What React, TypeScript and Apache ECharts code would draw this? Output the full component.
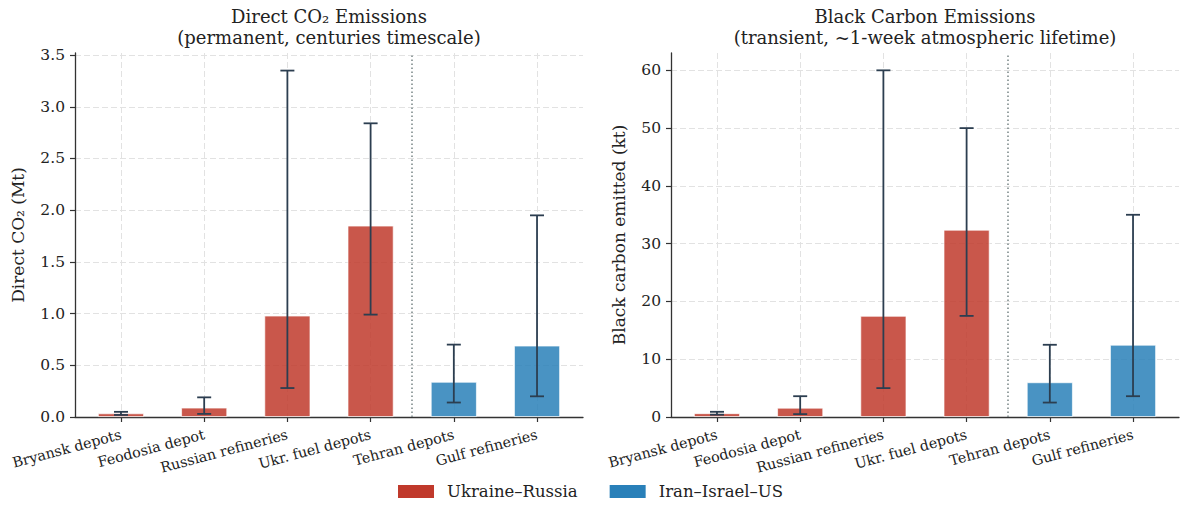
import React, { useEffect, useRef } from "react";
import * as echarts from "echarts";

const categories = [
  "Bryansk depots",
  "Feodosia depot",
  "Russian refineries",
  "Ukr. fuel depots",
  "Tehran depots",
  "Gulf refineries",
];
const conflictOf = [0, 0, 0, 0, 1, 1];
const conflicts = ["Ukraine–Russia", "Iran–Israel–US"];
const conflictColors = ["#c0392b", "#2980b9"];

const co2Values = [0.035, 0.09, 0.98, 1.85, 0.34, 0.69];
const co2Low = [0.02, 0.03, 0.28, 0.99, 0.14, 0.2];
const co2High = [0.05, 0.19, 3.35, 2.84, 0.7, 1.95];

const bcValues = [0.65, 1.6, 17.5, 32.4, 6.0, 12.5];
const bcLow = [0.4, 0.5, 5.0, 17.5, 2.5, 3.6];
const bcHigh = [0.9, 3.6, 60, 50, 12.5, 35];

const co2Ticks = [0, 0.5, 1.0, 1.5, 2.0, 2.5, 3.0, 3.5];
const bcTicks = [0, 10, 20, 30, 40, 50, 60];

const FONT = "DejaVu Serif";
const TEXT = "#222222";
const AXIS = "#333333";
const GRIDC = "#e2e2e2";
const ERR = "#2c3e50";

function makeAxes(gridIndex: number, yMax: number, yTicks: number[], yName: string, fmt: (v: number) => string, nameGap: number) {
  const catIdx = categories.map((_, i) => i);
  const xAxis = {
    type: "value",
    gridIndex,
    min: -0.5525,
    max: 5.5525,
    axisLine: { show: true, onZero: false, lineStyle: { color: AXIS, width: 1.3 } },
    axisTick: { show: true, customValues: catIdx, length: 5, lineStyle: { color: AXIS, width: 1.2 } },
    axisLabel: {
      show: true,
      customValues: catIdx,
      rotate: 15,
      margin: 17,
      fontFamily: FONT,
      fontSize: 14.3,
      color: TEXT,
      formatter: (v: number) => categories[Math.round(v)] ?? "",
    },
    splitLine: { show: true, lineStyle: { color: GRIDC, type: [6, 3], width: 1 } },
  };
  const yAxis = {
    type: "value",
    gridIndex,
    min: 0,
    max: yMax,
    name: yName,
    nameLocation: "middle",
    nameRotate: 90,
    nameGap,
    nameTextStyle: { fontFamily: FONT, fontSize: 17, color: TEXT },
    axisLine: { show: true, onZero: false, lineStyle: { color: AXIS, width: 1.3 } },
    axisTick: { show: true, customValues: yTicks, length: 5, lineStyle: { color: AXIS, width: 1.2 } },
    axisLabel: {
      show: true,
      customValues: yTicks,
      margin: 10,
      fontFamily: FONT,
      fontSize: 15.5,
      color: TEXT,
      formatter: fmt,
    },
    splitLine: { show: true, lineStyle: { color: GRIDC, type: [6, 3], width: 1 } },
  };
  return { xAxis, yAxis };
}

function makeSeries(gridIndex: number, values: number[], low: number[], high: number[]) {
  const out: any[] = [];
  conflicts.forEach((name, c) => {
    const data: number[][] = [];
    values.forEach((v, i) => {
      if (conflictOf[i] === c) data.push([i, v]);
    });
    out.push({
      type: "bar",
      name,
      xAxisIndex: gridIndex,
      yAxisIndex: gridIndex,
      data,
      barWidth: 46,
      barGap: "-100%",
      itemStyle: {
        color: conflictColors[c],
        opacity: 0.85,
        borderColor: "#ffffff",
        borderWidth: 0.8,
      },
      z: 2,
    });
  });
  const errData = values.map((_, i) => [i, low[i], high[i]]);
  out.push({
    type: "custom",
    xAxisIndex: gridIndex,
    yAxisIndex: gridIndex,
    data: errData,
    encode: { x: 0, y: [1, 2] },
    z: 5,
    silent: true,
    renderItem: (params: any, api: any) => {
      const x = api.value(0);
      const pLo = api.coord([x, api.value(1)]);
      const pHi = api.coord([x, api.value(2)]);
      const cap = 7;
      const st = { stroke: ERR, lineWidth: 1.8, fill: "none" };
      return {
        type: "group",
        children: [
          { type: "line", shape: { x1: pLo[0], y1: pLo[1], x2: pHi[0], y2: pHi[1] }, style: st },
          { type: "line", shape: { x1: pLo[0] - cap, y1: pLo[1], x2: pLo[0] + cap, y2: pLo[1] }, style: st },
          { type: "line", shape: { x1: pHi[0] - cap, y1: pHi[1], x2: pHi[0] + cap, y2: pHi[1] }, style: st },
        ],
      };
    },
    markLine: {
      silent: true,
      symbol: "none",
      label: { show: false },
      lineStyle: { color: "#7f8c8d", type: [1.5, 2.5], width: 1.6 },
      data: [{ xAxis: 3.5 }],
    },
  });
  return out;
}

export default function App() {
  const ref = useRef<HTMLDivElement>(null);
  useEffect(() => {
    if (!ref.current) return;
    const chart = echarts.init(ref.current, undefined, { renderer: "svg" });
    const a1 = makeAxes(0, 3.52, co2Ticks, "Direct CO₂ (Mt)", (v: number) => v.toFixed(1), 49);
    const a2 = makeAxes(1, 63, bcTicks, "Black carbon emitted (kt)", (v: number) => String(Math.round(v)), 44);
    const titleFont = `18px "${FONT}"`;
    chart.setOption({
      animation: false,
      backgroundColor: "#ffffff",
      textStyle: { fontFamily: FONT, color: TEXT },
      grid: [
        { left: 75, right: 1181 - 583, top: 53, bottom: 88 },
        { left: 671, right: 2, top: 53, bottom: 88 },
      ],
      xAxis: [a1.xAxis, a2.xAxis],
      yAxis: [a1.yAxis, a2.yAxis],
      legend: {
        left: "center",
        top: 478,
        itemWidth: 36,
        itemHeight: 13,
        itemGap: 32,
        icon: "rect",
        textStyle: { fontFamily: FONT, fontSize: 16.5, color: TEXT, padding: [0, 0, 0, 8] },
        data: conflicts.map((n, i) => ({ name: n, itemStyle: { color: conflictColors[i], opacity: 1, borderWidth: 0 } })),
      },
      graphic: [
        { type: "text", x: 329, y: 16, style: { text: "Direct CO₂ Emissions", font: titleFont, fill: TEXT, align: "center", verticalAlign: "middle" } },
        { type: "text", x: 329, y: 37, style: { text: "(permanent, centuries timescale)", font: titleFont, fill: TEXT, align: "center", verticalAlign: "middle" } },
        { type: "text", x: 925, y: 16, style: { text: "Black Carbon Emissions", font: titleFont, fill: TEXT, align: "center", verticalAlign: "middle" } },
        { type: "text", x: 925, y: 37, style: { text: "(transient, ~1-week atmospheric lifetime)", font: titleFont, fill: TEXT, align: "center", verticalAlign: "middle" } },
      ],
      series: [
        ...makeSeries(0, co2Values, co2Low, co2High),
        ...makeSeries(1, bcValues, bcLow, bcHigh),
      ],
    });
    return () => chart.dispose();
  }, []);
  return <div ref={ref} style={{ position: "fixed", left: 0, top: 0, width: 1181, height: 505 }} />;
}
